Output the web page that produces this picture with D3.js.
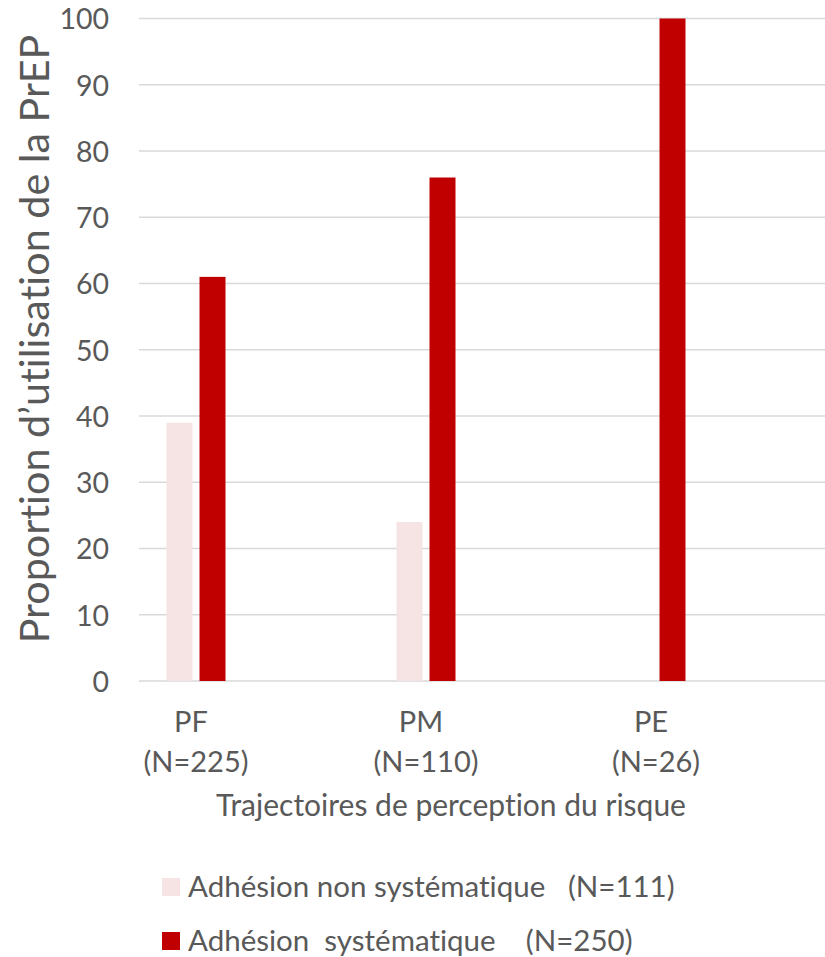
<!DOCTYPE html>
<html>
<head>
<meta charset="utf-8">
<script src="https://cdn.jsdelivr.net/npm/d3@7"></script>
<style>
  html, body { margin: 0; padding: 0; background: #fff; }
  svg { display: block; }
  text { font-family: Lato, "Open Sans", sans-serif; fill: #595959; font-variant-ligatures: none; font-feature-settings: "liga" 0, "clig" 0; }
</style>
</head>
<body>
<svg id="chart" width="825" height="957"></svg>
<script>
// Trajectories of risk perception
const categories = ["PF", "PM", "PE"];
const categoryCounts = ["(N=225)", "(N=110)", "(N=26)"];
// Share of PrEP use (%) by adherence group
const seriesNames = ["Adhésion non systématique   (N=111)", "Adhésion  systématique    (N=250)"];
const nonSystematic = [39, 24, 0];
const systematic = [61, 76, 100];
const yTicks = [0, 10, 20, 30, 40, 50, 60, 70, 80, 90, 100];
const colors = ["#F6E4E4", "#C00000"];

const svg = d3.select("#chart");

const y = d3.scaleLinear().domain([0, 100]).range([681, 18.5]);
const x0 = d3.scaleBand().domain(categories).range([81, 771]).paddingInner(0).paddingOuter(0);
const x1 = d3.scaleBand().domain([0, 1]).range([0, 59]).paddingInner(7 / 33).paddingOuter(0);

// Horizontal gridlines
svg.append("g")
  .selectAll("line")
  .data(yTicks)
  .join("line")
  .attr("x1", 139).attr("x2", 825)
  .attr("y1", d => y(d)).attr("y2", d => y(d))
  .attr("stroke", "#D9D9D9").attr("stroke-width", 1.6);

// Y tick labels
const yAxis = d3.axisLeft(y).tickValues(yTicks).tickSize(0).tickPadding(0);
const gy = svg.append("g").attr("transform", "translate(109,0)").call(yAxis);
gy.select(".domain").remove();
gy.selectAll("text")
  .style("font-family", "Lato, 'Open Sans', sans-serif")
  .style("font-size", "28.5px")
  .attr("fill", "#595959")
  .attr("dy", "0.36em");

// Bars
const rows = categories.map((c, i) => ({ cat: c, values: [nonSystematic[i], systematic[i]] }));
const groups = svg.append("g")
  .selectAll("g")
  .data(rows)
  .join("g")
  .attr("transform", d => `translate(${x0(d.cat) + x0.bandwidth() / 2 - 29.5},0)`);
groups.selectAll("rect")
  .data(d => d.values.map((v, k) => ({ k, v })))
  .join("rect")
  .attr("x", d => x1(d.k))
  .attr("width", x1.bandwidth())
  .attr("y", d => y(d.v))
  .attr("height", d => y(0) - y(d.v))
  .attr("fill", d => colors[d.k]);

// Category labels
const xl = svg.append("g");
categories.forEach((c, i) => {
  const cx = x0(c) + x0.bandwidth() / 2;
  xl.append("text").attr("x", cx - 5).attr("y", 732).attr("text-anchor", "middle")
    .style("font-size", "29px").text(c);
  xl.append("text").attr("x", cx).attr("y", 772).attr("text-anchor", "middle")
    .style("font-size", "29px").text(categoryCounts[i]);
});

// Axis titles
svg.append("text").attr("x", 451).attr("y", 816).attr("text-anchor", "middle")
  .style("font-size", "30px").text("Trajectoires de perception du risque");
svg.append("text")
  .attr("transform", "translate(49,339) rotate(-90)")
  .attr("text-anchor", "middle")
  .style("font-size", "41.3px")
  .text("Proportion d\u2019utilisation de la PrEP");

// Legend
const legend = svg.append("g");
seriesNames.forEach((name, k) => {
  const cy = 887 + k * 54;
  legend.append("rect").attr("x", 162).attr("y", cy - 9).attr("width", 18).attr("height", 18)
    .attr("fill", colors[k]);
  legend.append("text").attr("x", 188).attr("y", cy + 10)
    .style("font-size", "29.5px").style("white-space", "pre").attr("xml:space", "preserve").text(name);
});
</script>
</body>
</html>
